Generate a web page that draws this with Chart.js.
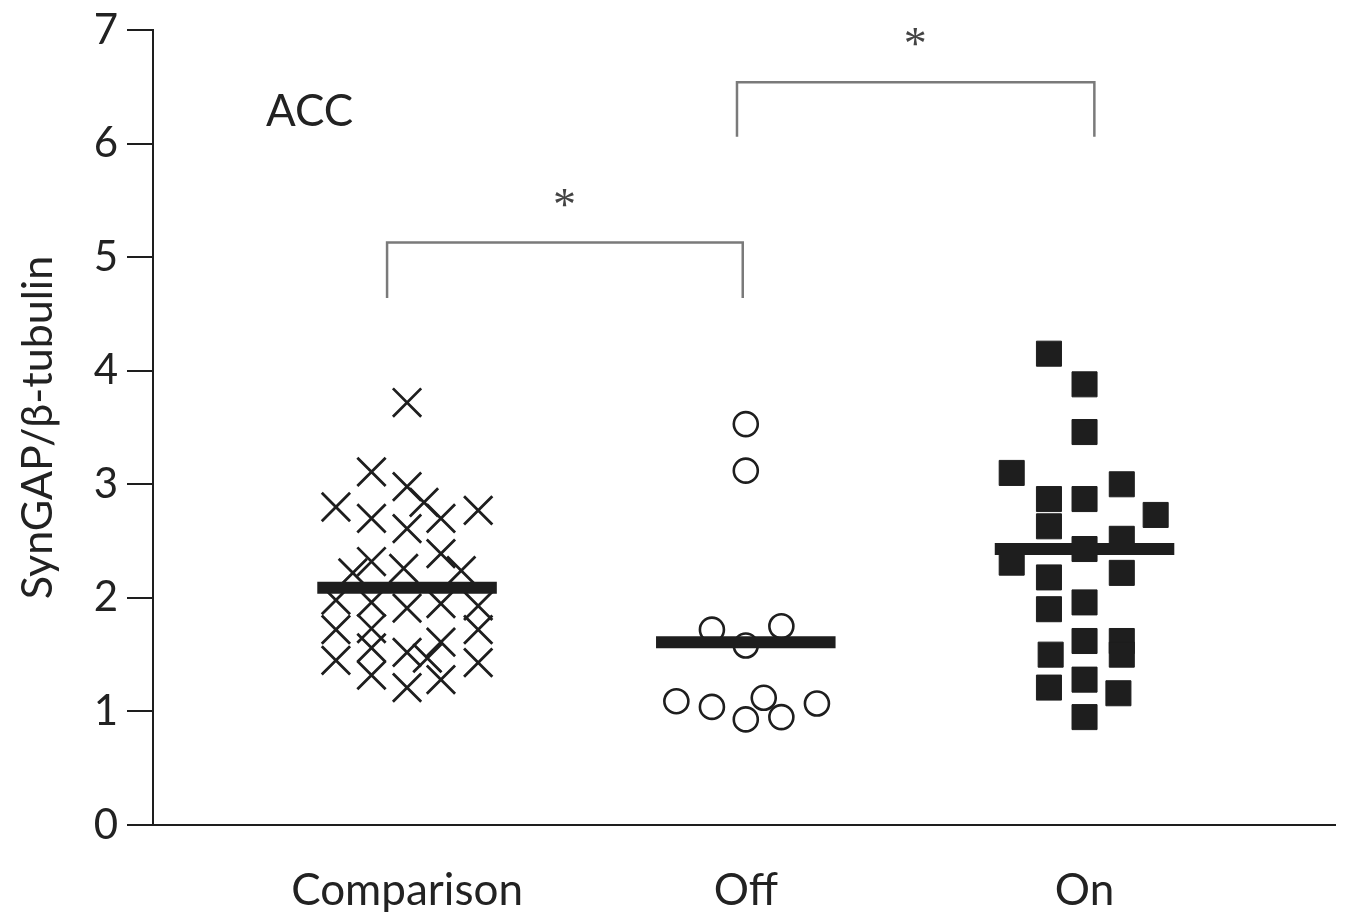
<!DOCTYPE html>
<html><head><meta charset="utf-8">
<script src="https://cdn.jsdelivr.net/npm/chart.js@4"></script>
<style>html,body{margin:0;padding:0;background:#fff;overflow:hidden}</style>
</head><body>
<canvas id="c" width="1358" height="912"></canvas>
<script>
// ---- data ----
const categories = ['Comparison', 'Off', 'On'];
const yTicks = [0, 1, 2, 3, 4, 5, 6, 7];

// horizontal jitter (offset from group centre) and value of every point
const comparisonJitter = [0, -0.105, 0, 0.05, -0.21, 0.21, -0.105, 0.10, 0, 0.10, -0.105, -0.01, -0.16, 0.16,
  -0.21, -0.105, 0, 0.10, 0.21, -0.21, -0.105, 0.21, -0.105, 0, 0.06, 0.10, -0.21, 0.21, -0.105, 0.10, 0];
const comparisonValues = [3.72, 3.11, 2.98, 2.84, 2.80, 2.77, 2.70, 2.70, 2.61, 2.39, 2.32, 2.26, 2.22, 2.24,
  1.98, 1.96, 1.91, 1.95, 1.93, 1.72, 1.73, 1.72, 1.56, 1.52, 1.47, 1.61, 1.45, 1.43, 1.32, 1.28, 1.21];

const offJitter = [0, 0, -0.10, 0.105, 0, -0.205, -0.10, 0.053, 0, 0.105, 0.21];
const offValues = [3.53, 3.12, 1.72, 1.75, 1.58, 1.09, 1.04, 1.12, 0.93, 0.95, 1.07];

const onJitter = [-0.105, 0, 0, -0.215, 0.11, 0.21, 0, -0.105, -0.105, 0, 0.11, -0.215, 0.11, -0.105,
  -0.105, 0, 0, 0.11, 0.11, -0.10, -0.105, 0, 0.10, 0];
const onValues = [4.15, 3.88, 3.46, 3.10, 3.00, 2.73, 2.87, 2.87, 2.63, 2.43, 2.52, 2.31, 2.22, 2.18,
  1.90, 1.96, 1.62, 1.62, 1.50, 1.50, 1.21, 1.28, 1.16, 0.95];

const means = [2.09, 1.61, 2.43];
const meanHalfWidth = 0.265;

// significance brackets: from, to (x), top, bottom (y)
const bracketFrom = [0.941, 1.974];
const bracketTo = [1.991, 3.029];
const bracketTop = [5.13, 6.54];
const bracketBottom = [4.64, 6.06];
const starX = [1.465, 2.50];
const starY = [5.52, 6.94];

const panelLabel = 'ACC';
const panelLabelX = 0.712;
const panelLabelY = 6.28;
const yTitle = 'SynGAP/\u03B2-tubulin';

// ---- chart ----
const FONT = 'Lato, "Open Sans", sans-serif';
const INK = '#1e1e1e';

const pts = (jit, vals, c) => vals.map((v, i) => ({x: c + jit[i], y: v}));

const meanSets = means.map((m, i) => ({
  type: 'line', label: 'mean ' + categories[i],
  data: [{x: i + 1 - meanHalfWidth, y: m}, {x: i + 1 + meanHalfWidth, y: m}],
  borderColor: INK, borderWidth: 12, borderCapStyle: 'butt', pointRadius: 0, showLine: true, fill: false
}));
const bracketSets = bracketFrom.map((f, i) => ({
  type: 'line', label: 'bracket ' + i,
  data: [{x: f, y: bracketBottom[i]}, {x: f, y: bracketTop[i]}, {x: bracketTo[i], y: bracketTop[i]}, {x: bracketTo[i], y: bracketBottom[i]}],
  borderColor: '#7a7a7a', borderWidth: 2.5, pointRadius: 0, showLine: true, fill: false, tension: 0
}));

const textPlugin = {
  id: 'texts',
  afterDatasetsDraw(chart) {
    const {ctx, scales: {x, y}} = chart;
    ctx.save();
    ctx.fillStyle = '#222';
    ctx.textAlign = 'center';
    ctx.textBaseline = 'middle';
    ctx.font = '44px ' + FONT;
    ctx.fillText(panelLabel, x.getPixelForValue(panelLabelX), y.getPixelForValue(panelLabelY));
    ctx.fillStyle = '#444';
    ctx.font = '46px "Liberation Serif", serif';
    starX.forEach((sx, i) => {
      ctx.fillText('*', x.getPixelForValue(sx), y.getPixelForValue(starY[i]) + 10);
    });
    ctx.restore();
  }
};

new Chart(document.getElementById('c'), {
  type: 'scatter',
  data: {
    datasets: [
      ...meanSets,
      ...bracketSets,
      {label: categories[0], data: pts(comparisonJitter, comparisonValues, 1), pointStyle: 'crossRot',
        pointRadius: 20, borderWidth: 2.8, borderColor: INK, backgroundColor: INK},
      {label: categories[1], data: pts(offJitter, offValues, 2), pointStyle: 'circle',
        pointRadius: 12, borderWidth: 2.6, borderColor: INK, backgroundColor: '#fff'},
      {label: categories[2], data: pts(onJitter, onValues, 3), pointStyle: 'rect',
        pointRadius: 17.7, borderWidth: 1, borderColor: INK, backgroundColor: INK}
    ]
  },
  options: {
    responsive: false,
    animation: false,
    devicePixelRatio: 1,
    layout: {padding: {top: 30, right: 18, left: 0, bottom: 0}},
    plugins: {legend: {display: false}, tooltip: {enabled: false}},
    scales: {
      x: {
        type: 'linear', min: 0.25, max: 3.74,
        afterBuildTicks: s => { s.ticks = categories.map((c, i) => ({value: i + 1})); },
        afterFit: s => { s.height = 87; },
        grid: {display: false},
        border: {display: true, color: INK, width: 2},
        ticks: {padding: 31, color: '#222', font: {family: FONT, size: 44},
          callback: v => categories[v - 1] ?? ''}
      },
      y: {
        type: 'linear', min: 0, max: 7,
        afterBuildTicks: s => { s.ticks = yTicks.map(v => ({value: v})); },
        afterFit: s => { s.width = 153; },
        grid: {drawOnChartArea: false, drawTicks: true, tickLength: 26, color: INK, lineWidth: 2},
        border: {display: true, color: INK, width: 2},
        ticks: {padding: 9, color: '#222', font: {family: FONT, size: 42, lineHeight: 1}},
        title: {display: true, text: yTitle, color: '#222', font: {family: FONT, size: 43}, padding: {top: 12, bottom: 0}}
      }
    }
  },
  plugins: [textPlugin]
});
</script>
</body></html>
